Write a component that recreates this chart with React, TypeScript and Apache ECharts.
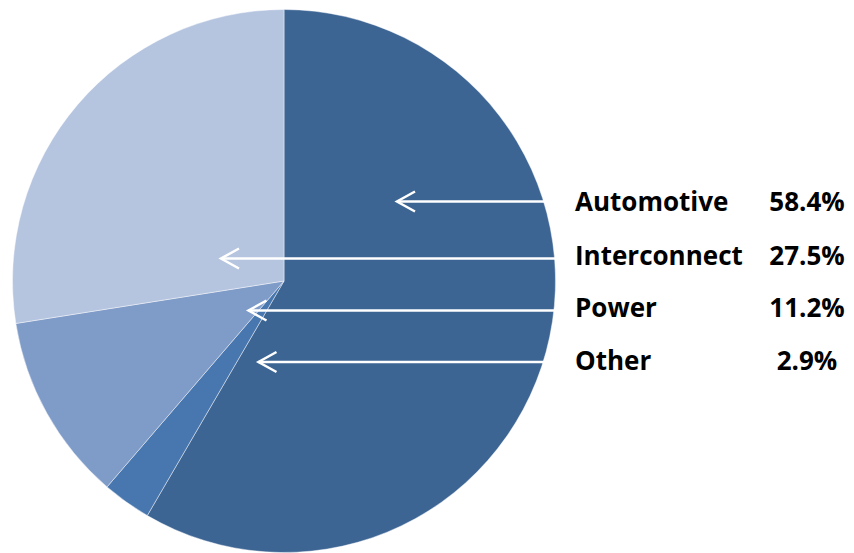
import React, { useEffect, useRef } from "react";
import * as echarts from "echarts";

// Data (clockwise from 12 o'clock)
const sliceNames = ["Automotive", "Other", "Power", "Interconnect"];
const sliceValues = [58.4, 2.9, 11.2, 27.5];
const sliceColors = ["#3D6594", "#4877AF", "#7F9BC8", "#B5C4DF"];

// Label list (legend order on the right)
const labelNames = ["Automotive", "Interconnect", "Power", "Other"];
const labelValues = [58.4, 27.5, 11.2, 2.9];

// Layout of annotation arrows / labels (pixels)
const rowY = [201.5, 258.5, 310.5, 362];
const textY = [201, 254.5, 306.5, 359.5];
const arrowTipX = [397, 221, 248.5, 258.5];
const arrowEndX = 556;
const labelX = 575;
const pctCenterX = 807;

export default function App() {
  const ref = useRef<HTMLDivElement>(null);

  useEffect(() => {
    if (!ref.current) return;
    const chart = echarts.init(ref.current, undefined, { renderer: "svg" });

    const graphics: any[] = [];
    rowY.forEach((y, i) => {
      const tx = arrowTipX[i];
      graphics.push({
        type: "line",
        z: 100,
        shape: { x1: tx, y1: y, x2: arrowEndX, y2: y },
        style: { stroke: "#ffffff", lineWidth: 2.5 },
      });
      graphics.push({
        type: "polyline",
        z: 100,
        shape: {
          points: [
            [tx + 18, y - 10],
            [tx, y],
            [tx + 18, y + 10],
          ],
        },
        style: { stroke: "#ffffff", lineWidth: 2.5, fill: null },
      });
    });
    labelNames.forEach((name, i) => {
      graphics.push({
        type: "text",
        z: 100,
        x: labelX,
        y: textY[i],
        style: {
          text: name,
          fill: "#000000",
          font: "bold 26px 'Open Sans', sans-serif",
          textAlign: "left",
          textVerticalAlign: "middle",
        },
      });
      graphics.push({
        type: "text",
        z: 100,
        x: pctCenterX,
        y: textY[i],
        style: {
          text: labelValues[i].toFixed(1) + "%",
          fill: "#000000",
          font: "bold 26px 'Open Sans', sans-serif",
          textAlign: "center",
          textVerticalAlign: "middle",
        },
      });
    });

    chart.setOption({
      animation: false,
      backgroundColor: "#ffffff",
      series: [
        {
          type: "pie",
          center: [284, 281],
          radius: 271.5,
          startAngle: 90,
          clockwise: true,
          label: { show: false },
          labelLine: { show: false },
          emphasis: { disabled: true },
          itemStyle: { borderColor: "rgba(255,255,255,0.55)", borderWidth: 0.8 },
          data: sliceNames.map((n, i) => ({
            name: n,
            value: sliceValues[i],
            itemStyle: { color: sliceColors[i] },
          })),
        },
      ],
      graphic: graphics,
    });

    return () => chart.dispose();
  }, []);

  return (
    <div
      ref={ref}
      style={{ position: "absolute", left: 0, top: 0, width: 854, height: 553 }}
    />
  );
}
